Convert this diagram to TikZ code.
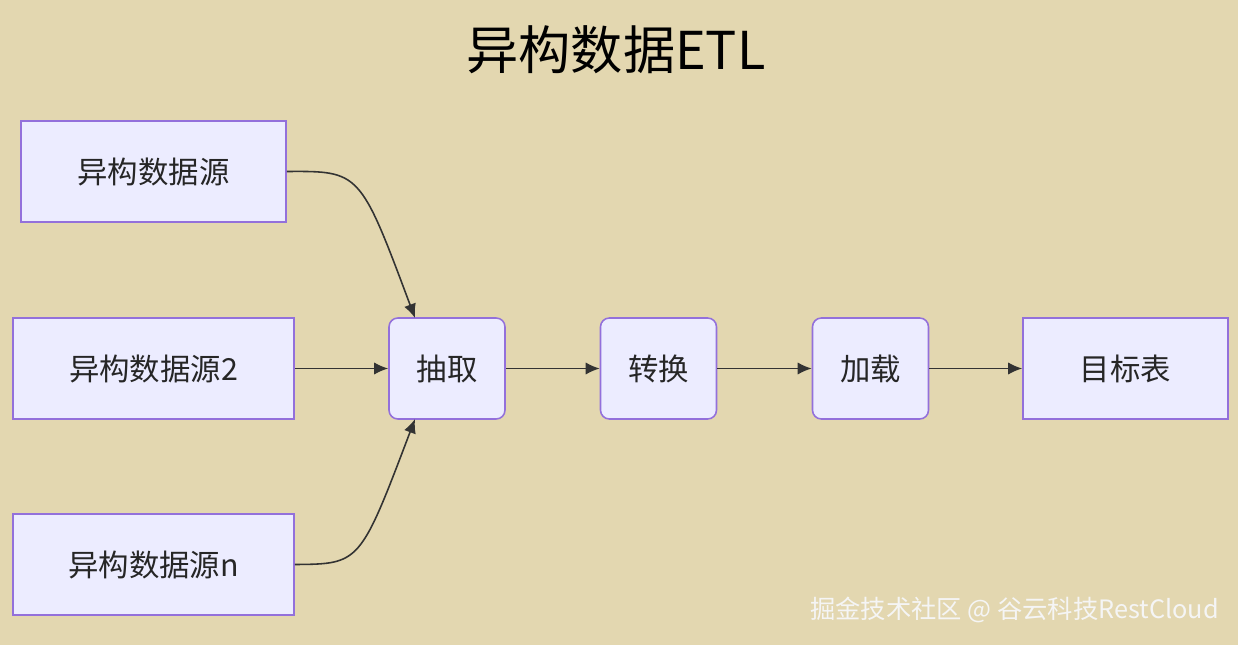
\documentclass[tikz,border=0pt]{standalone}
\usepackage{fontspec}
\setmainfont{Noto Sans CJK SC}
\usetikzlibrary{arrows.meta}
\definecolor{bgc}{HTML}{E3D7B0}
\definecolor{boxfill}{HTML}{ECECFF}
\definecolor{boxline}{HTML}{9370DB}
\definecolor{edgec}{HTML}{333333}
\begin{document}
\begin{tikzpicture}[x=0.02cm,y=-0.02cm,
    box/.style={draw=boxline,fill=boxfill,line width=0.9pt,minimum height=2.02cm,font=\fontsize{17.3}{19}\selectfont,text=black!85},
    stage/.style={box,rounded corners=5pt,minimum width=2.32cm},
    flow/.style={-{Latex[length=8pt,width=7pt]},draw=edgec,line width=0.9pt}]
		\fill[bgc] (0,0) rectangle (1238,645);
		\node (title) at (616,50) {\fontsize{29.7}{32}\selectfont 异构数据ETL};
		\node (src1) [box,minimum width=5.3cm] at (153.5,171.5) {异构数据源};
		\node (src2) [box,minimum width=5.62cm] at (153.5,368.5) {异构数据源2};
		\node (srcn) [box,minimum width=5.62cm] at (153.5,564.5) {异构数据源n};
		\node (extract) [stage] at (447,368.5) {抽取};
		\node (trans) [stage] at (658.5,368.5) {转换};
		\node (load) [stage] at (870.5,368.5) {加载};
		\node (target) [box,minimum width=4.1cm] at (1125.5,368.5) {目标表};
		\coordinate (topin) at (415,318);
		\coordinate (botin) at (415,419);
		\draw[flow] (src1.east) .. controls (360,171) .. (topin);
		\draw[flow] (srcn.east) .. controls (360,564) .. (botin);
		\draw[flow] (src2) -- (extract);
		\draw[flow] (extract) -- (trans);
		\draw[flow] (trans) -- (load);
		\draw[flow] (load) -- (target);
		\node (mark) [anchor=east,text=white!92!gray] at (1225,610) {\fontsize{14.4}{16}\selectfont 掘金技术社区 @ 谷云科技RestCloud};
\end{tikzpicture}
\end{document}
